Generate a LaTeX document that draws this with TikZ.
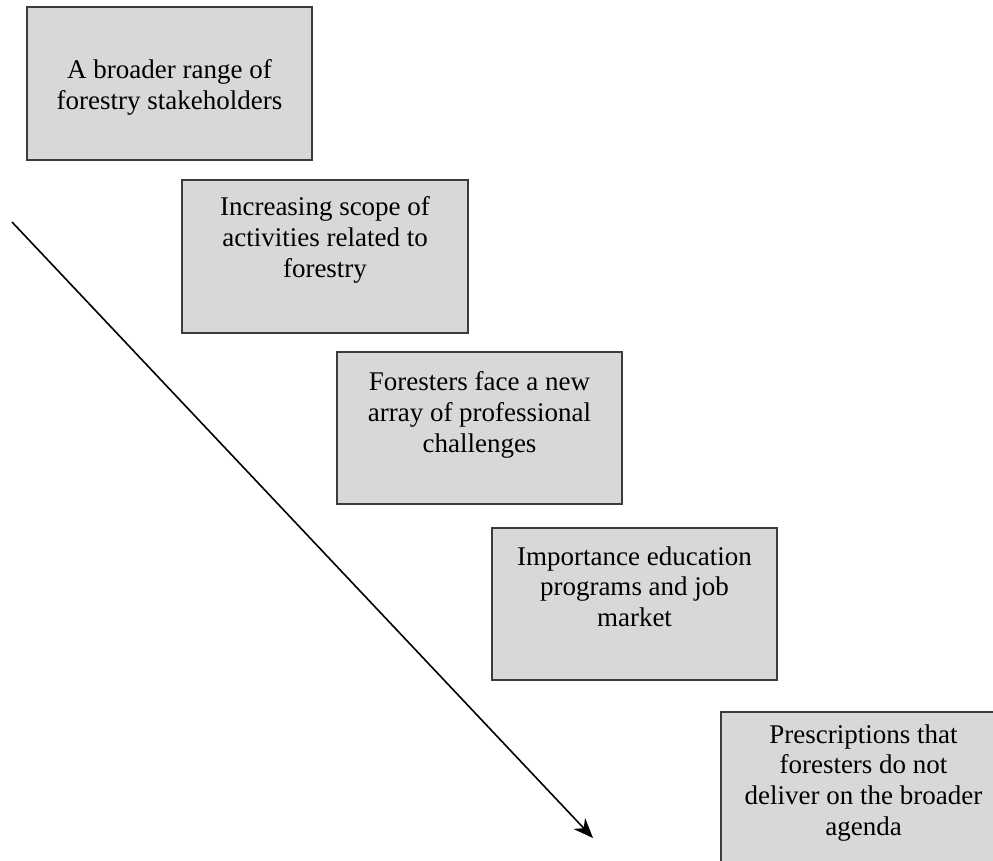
\documentclass[tikz,border=0pt]{standalone}
\usepackage{fontspec}
\setmainfont{Liberation Serif}
\usetikzlibrary{arrows.meta}
\definecolor{boxgray}{RGB}{216,216,216}
\definecolor{edgegray}{RGB}{60,60,60}
\tikzset{
 stepbox/.style={draw=edgegray, fill=boxgray, line width=0.05cm, minimum width=7.125cm, minimum height=3.8cm, inner sep=0},
 steptext/.style={anchor=north, align=center, inner sep=0, font=\fontsize{19.2}{22}\selectfont}
}
\begin{document}
\begin{tikzpicture}[x=0.025cm, y=-0.025cm]
\useasboundingbox (0,0) rectangle (993,861);
\clip (0,0) rectangle (993,861);
\node[stepbox] (b1) at (169.5,83.5) {};
\node[stepbox] (b2) at (325,256.5) {};
\node[stepbox] (b3) at (479.5,428) {};
\node[stepbox] (b4) at (634.5,604) {};
\node[stepbox] (b5) at (863.5,788) {};
\node[steptext] (t1) at (169.5,59) {A broader range of\\forestry stakeholders};
\node[steptext] (t2) at (325,196) {Increasing scope of\\activities related to\\forestry};
\node[steptext] (t3) at (479.5,371) {Foresters face a new\\array of professional\\challenges};
\node[steptext] (t4) at (634.5,546) {Importance education\\programs and job\\market};
\node[steptext] (t5) at (863.5,724) {Prescriptions that\\foresters do not\\deliver on the broader\\agenda};
\coordinate (start) at (12,222);
\coordinate (end) at (593,838);
\draw[line width=0.04cm, -{Stealth[length=0.5cm,width=0.4cm]}] (start) -- (end);
\end{tikzpicture}
\end{document}
